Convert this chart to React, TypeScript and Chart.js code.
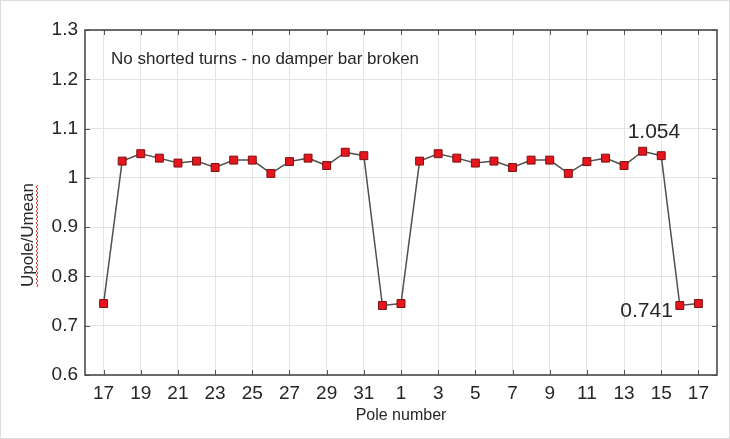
import React, { useEffect, useRef } from "react";
import { Chart, registerables } from "chart.js";

Chart.register(...registerables);

const poles = [17, 18, 19, 20, 21, 22, 23, 24, 25, 26, 27, 28, 29, 30, 31, 32, 1, 2, 3, 4, 5, 6, 7, 8, 9, 10, 11, 12, 13, 14, 15, 16, 17];
const ratios = [0.745, 1.034, 1.049, 1.040, 1.030, 1.034, 1.021, 1.036, 1.036, 1.009, 1.033, 1.040, 1.025, 1.052, 1.045, 0.741, 0.745, 1.034, 1.049, 1.040, 1.030, 1.034, 1.021, 1.036, 1.036, 1.009, 1.033, 1.040, 1.025, 1.054, 1.045, 0.741, 0.745];
const yTicks = [0.6, 0.7, 0.8, 0.9, 1.0, 1.1, 1.2, 1.3];
const noteText = "No shorted turns - no damper bar broken";
const maxLabel = { index: 29, text: "1.054" };
const minLabel = { index: 31, text: "0.741" };
const xTitle = "Pole number";
const yTitle = "Upole/Umean";

const FONT = "'Liberation Sans', Arial, sans-serif";
const TEXT = "#262626";

const decorPlugin = {
  id: "decor",
  beforeDatasetsDraw(chart: any) {
    const { ctx, chartArea: a, scales } = chart;
    ctx.save();
    ctx.strokeStyle = "#555";
    ctx.lineWidth = 1;
    const tl = 5;
    scales.x.ticks.forEach((t: any) => {
      const px = Math.round(scales.x.getPixelForValue(t.value)) + 0.5;
      ctx.beginPath();
      ctx.moveTo(px, a.bottom);
      ctx.lineTo(px, a.bottom - tl);
      ctx.moveTo(px, a.top);
      ctx.lineTo(px, a.top + tl);
      ctx.stroke();
    });
    scales.y.ticks.forEach((t: any) => {
      const py = Math.round(scales.y.getPixelForValue(t.value)) + 0.5;
      ctx.beginPath();
      ctx.moveTo(a.left, py);
      ctx.lineTo(a.left + tl, py);
      ctx.moveTo(a.right, py);
      ctx.lineTo(a.right - tl, py);
      ctx.stroke();
    });
    ctx.strokeStyle = "#4a4a4a";
    ctx.lineWidth = 1.6;
    ctx.strokeRect(a.left, a.top, a.right - a.left, a.bottom - a.top);
    ctx.restore();
  },
  afterDraw(chart: any) {
    const { ctx, chartArea: a, scales } = chart;
    ctx.save();
    ctx.fillStyle = TEXT;
    ctx.textAlign = "left";
    ctx.textBaseline = "alphabetic";
    ctx.font = `17px ${FONT}`;
    ctx.fillText(noteText, a.left + 26, a.top + 34);

    ctx.font = `21px ${FONT}`;
    const mx = scales.x.getPixelForValue(maxLabel.index);
    const my = scales.y.getPixelForValue(ratios[maxLabel.index]);
    ctx.fillText(maxLabel.text, mx - 15, my - 13);

    ctx.textAlign = "right";
    const nx = scales.x.getPixelForValue(minLabel.index);
    const ny = scales.y.getPixelForValue(ratios[minLabel.index]);
    ctx.fillText(minLabel.text, nx - 7, ny + 11);

    ctx.textAlign = "center";
    ctx.font = `16px ${FONT}`;
    ctx.fillText(xTitle, (a.left + a.right) / 2, 419);

    ctx.translate(26, 234);
    ctx.rotate(-Math.PI / 2);
    ctx.font = `17px ${FONT}`;
    ctx.fillStyle = TEXT;
    ctx.fillText(yTitle, 0, 6);
    ctx.strokeStyle = "#e03030";
    ctx.lineWidth = 1;
    ctx.beginPath();
    const w = ctx.measureText(yTitle).width;
    let up = true;
    for (let s = -w / 2; s <= w / 2; s += 2) {
      if (s === -w / 2) ctx.moveTo(s, 10);
      else ctx.lineTo(s, up ? 9 : 11);
      up = !up;
    }
    ctx.stroke();
    ctx.restore();
  },
};

export default function App() {
  const ref = useRef<HTMLCanvasElement | null>(null);
  useEffect(() => {
    if (!ref.current) return;
    const chart = new Chart(ref.current, {
      type: "line",
      data: {
        datasets: [
          {
            data: ratios.map((v, i) => ({ x: i, y: v })),
            borderColor: "#505050",
            borderWidth: 1.5,
            pointStyle: "rect",
            pointRadius: 5.6,
            pointBackgroundColor: "#e8161c",
            pointBorderColor: "#7a1010",
            pointBorderWidth: 1,
            tension: 0,
          },
        ],
      },
      options: {
        animation: false,
        responsive: true,
        maintainAspectRatio: false,
        layout: { padding: { top: 29, right: 12, left: 0, bottom: 0 } },
        plugins: { legend: { display: false }, tooltip: { enabled: false } },
        scales: {
          x: {
            type: "linear",
            min: -1,
            max: 33,
            afterBuildTicks: (scale: any) => {
              scale.ticks = poles.map((_, i) => i).filter((i) => i % 2 === 0).map((i) => ({ value: i }));
            },
            afterFit: (scale: any) => {
              scale.height = 63;
            },
            ticks: {
              autoSkip: false,
              maxRotation: 0,
              padding: 7,
              color: TEXT,
              font: { family: FONT, size: 19 },
              callback: (v: any) => String(poles[Math.round(Number(v))] ?? ""),
            },
            grid: { color: "#e4e4e4", lineWidth: 1, drawTicks: false },
            border: { display: false },
          },
          y: {
            min: 0.6,
            max: 1.3,
            afterBuildTicks: (scale: any) => {
              scale.ticks = yTicks.map((v) => ({ value: v }));
            },
            afterFit: (scale: any) => {
              scale.width = 84;
            },
            ticks: {
              padding: 7,
              color: TEXT,
              font: { family: FONT, size: 19 },
              callback: (v: any) => String(Math.round(Number(v) * 10) / 10),
            },
            grid: { color: "#e4e4e4", lineWidth: 1, drawTicks: false },
            border: { display: false },
          },
        },
      },
      plugins: [decorPlugin],
    } as any);
    return () => chart.destroy();
  }, []);
  return (
    <div
      style={{
        position: "fixed",
        left: 0,
        top: 0,
        width: 730,
        height: 439,
        background: "#fff",
        boxSizing: "border-box",
        border: "1px solid #dcdcdc",
      }}
    >
      <canvas ref={ref} />
    </div>
  );
}
